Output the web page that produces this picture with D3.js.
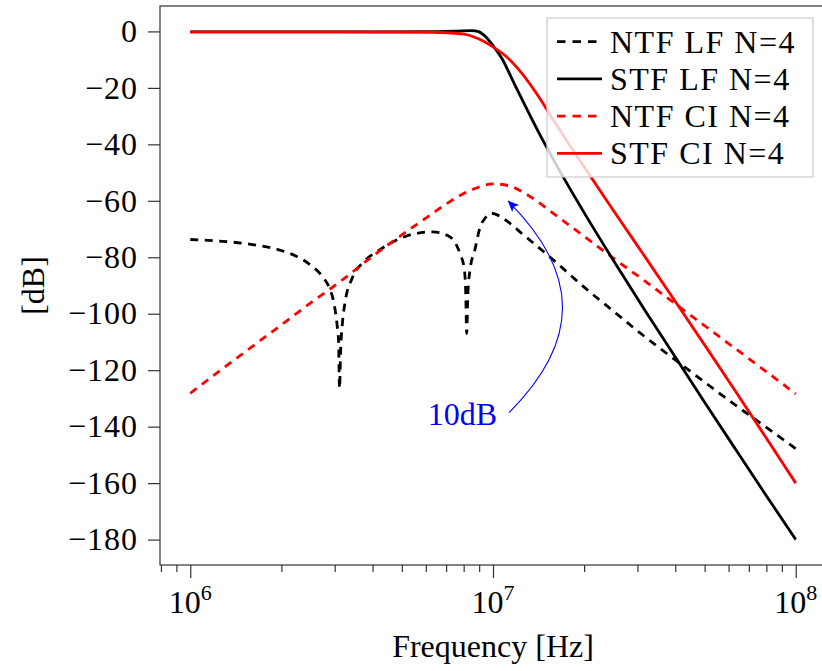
<!DOCTYPE html>
<html>
<head>
<meta charset="utf-8">
<script src="https://cdn.jsdelivr.net/npm/d3@7"></script>
<style>
  html, body { margin: 0; padding: 0; background: #fff; }
  svg text { font-family: "Liberation Serif", "Times New Roman", serif; }
</style>
</head>
<body>
<svg id="chart" width="822" height="671"></svg>
<script>
// ---------------- DATA ----------------
// frequencies given as log10(Hz) exponents, levels in dB
const ntfLfLogF = [6.0, 6.1, 6.2, 6.3, 6.35, 6.4, 6.44, 6.46, 6.475, 6.485, 6.49, 6.493, 6.497, 6.502, 6.512, 6.534, 6.572, 6.62, 6.68, 6.74, 6.8, 6.85, 6.875, 6.892, 6.905, 6.91, 6.913, 6.917, 6.924, 6.94, 6.957, 6.975, 6.995, 7.02, 7.05, 7.1, 7.2, 7.3, 7.4, 7.5, 7.6, 7.7, 7.8, 7.9, 8.0];
const ntfLfDb   = [-73.7, -74.3, -75.4, -77.6, -79.6, -83, -87.3, -91, -96.5, -104, -110, -126.5, -112, -104, -95.5, -87.6, -81.7, -77.8, -74, -71.7, -71, -72.3, -74.8, -79, -84, -93, -107, -93, -84.5, -77.4, -69.5, -66, -64.4, -65.3, -67.5, -72, -81, -90.5, -99.3, -108, -116.2, -124.3, -132.3, -140, -147.8];

const stfLfLogF = [6.0, 6.5, 6.8, 6.88, 6.93, 6.95, 6.97, 7.0, 7.03, 7.067, 7.1, 7.15, 7.2, 7.3, 7.4, 7.5, 7.6, 7.7, 7.8, 7.9, 8.0];
const stfLfDb   = [-0.2, -0.15, -0.1, 0.1, 0.3, 0.0, -1.3, -5, -9.7, -17.8, -25, -35.6, -45.5, -64, -81.5, -98.5, -115, -131.5, -147.8, -164, -180];

const ntfCiLogF = [6.0, 6.1, 6.2, 6.3, 6.4, 6.5, 6.6, 6.7, 6.8, 6.85, 6.9, 6.95, 7.0, 7.05, 7.1, 7.15, 7.2, 7.3, 7.4, 7.5, 7.6, 7.7, 7.8, 7.9, 8.0];
const ntfCiDb   = [-128.2, -120, -112, -104, -96, -88.2, -79.8, -72, -64.5, -60.8, -57.6, -55.3, -54, -54.6, -57, -60.5, -64.5, -72.5, -80.5, -88.3, -96.3, -104.3, -112.3, -120.3, -128.4];

const stfCiLogF = [6.0, 6.5, 6.8, 6.85, 6.9, 6.95, 7.0, 7.05, 7.1, 7.15, 7.2, 7.25, 7.3, 7.35, 7.4, 7.5, 7.6, 7.7, 7.8, 7.9, 8.0];
const stfCiDb   = [-0.2, -0.2, -0.3, -0.5, -0.9, -2.5, -5.5, -9.5, -15.5, -23, -31.5, -39.8, -47.8, -55.8, -63.8, -79.5, -95.3, -111.2, -127.3, -143.6, -160];

const seriesNames = ["NTF LF N=4", "STF LF N=4", "NTF CI N=4", "STF CI N=4"];
const yTicks = [0, -20, -40, -60, -80, -100, -120, -140, -160, -180];
const xMajorTicks = [1e6, 1e7, 1e8];
const xTickExponents = ["6", "7", "8"];
const xMinorTicks = [8e5, 9e5, 2e6, 3e6, 4e6, 5e6, 6e6, 7e6, 8e6, 9e6, 2e7, 3e7, 4e7, 5e7, 6e7, 7e7, 8e7, 9e7];
const annotation = { text: "10dB", fromF: 1.13e7, fromDb: -135, toF: 1.12e7, toDb: -60 };

// ---------------- CHART ----------------
const svg = d3.select("#chart");
const pL = 160, pR = 826, pT = 6, pB = 565;

const x = d3.scaleLog().domain([Math.pow(10, 5.9), Math.pow(10, 8.1)]).range([pL, pR]);
const y = d3.scaleLinear().domain([-189, 9]).range([pB, pT]);

const zip = (lf, db) => lf.map((e, i) => ({ f: Math.pow(10, e), v: db[i] }));
const series = [
  { name: seriesNames[0], data: zip(ntfLfLogF, ntfLfDb), color: "#000", dash: "8,6.5" },
  { name: seriesNames[1], data: zip(stfLfLogF, stfLfDb), color: "#000", dash: null },
  { name: seriesNames[2], data: zip(ntfCiLogF, ntfCiDb), color: "#ff0000", dash: "8,6.5" },
  { name: seriesNames[3], data: zip(stfCiLogF, stfCiDb), color: "#ff0000", dash: null }
];

const defs = svg.append("defs");
defs.append("clipPath").attr("id", "plotclip")
  .append("rect").attr("x", pL).attr("y", pT).attr("width", pR - pL).attr("height", pB - pT);

const line = d3.line().x(d => x(d.f)).y(d => y(d.v)).curve(d3.curveMonotoneX);

const plot = svg.append("g").attr("clip-path", "url(#plotclip)");
[series[0], series[2], series[1], series[3]].forEach(s => {
  plot.append("path")
    .attr("d", line(s.data))
    .attr("fill", "none")
    .attr("stroke", s.color)
    .attr("stroke-width", 2.8)
    .attr("stroke-linejoin", "round")
    .attr("stroke-dasharray", s.dash);
});

// annotation arrow (curved, bending right)
defs.append("marker")
  .attr("id", "arrowhead")
  .attr("markerUnits", "userSpaceOnUse")
  .attr("markerWidth", 14).attr("markerHeight", 12)
  .attr("refX", 11).attr("refY", 5)
  .attr("orient", "auto")
  .append("path").attr("d", "M0,0 L11,5 L0,10 L2.5,5 z").attr("fill", "#0000ff");

const p0 = [x(annotation.fromF), y(annotation.fromDb)];
const p3 = [x(annotation.toF), y(annotation.toDb)];
const bend = 72;
const c1 = [p0[0] + bend, p0[1] - bend];
const c2 = [p3[0] + bend, p3[1] + bend];
svg.append("path")
  .attr("d", `M${p0[0]},${p0[1]} C${c1[0]},${c1[1]} ${c2[0]},${c2[1]} ${p3[0]},${p3[1]}`)
  .attr("fill", "none").attr("stroke", "#0000ff").attr("stroke-width", 1.1)
  .attr("marker-end", "url(#arrowhead)");
svg.append("text")
  .attr("x", p0[0] - 12).attr("y", p0[1] + 12)
  .attr("text-anchor", "end")
  .attr("font-size", 32).attr("fill", "#0000ff")
  .text(annotation.text);

// axes frame
svg.append("rect").attr("x", pL).attr("y", pT).attr("width", pR - pL).attr("height", pB - pT)
  .attr("fill", "none").attr("stroke", "#333").attr("stroke-width", 1.2);

// y axis
const yAxis = svg.append("g").attr("transform", `translate(${pL},0)`)
  .call(d3.axisLeft(y).tickValues(yTicks).tickSize(12).tickSizeOuter(0).tickPadding(10)
    .tickFormat(d => d3.format("")(d)));
yAxis.select(".domain").remove();
yAxis.selectAll(".tick line").attr("stroke", "#333").attr("stroke-width", 1.2);
yAxis.selectAll(".tick text").attr("font-size", 32).attr("fill", "#000")
  .attr("font-family", "Liberation Serif, serif").attr("letter-spacing", 1);

// x axis - minor ticks
const xMinor = svg.append("g").attr("transform", `translate(0,${pB})`)
  .call(d3.axisBottom(x).tickValues(xMinorTicks).tickSize(7).tickSizeOuter(0).tickFormat(() => ""));
xMinor.select(".domain").remove();
xMinor.selectAll(".tick line").attr("stroke", "#333").attr("stroke-width", 1.2);

// x axis - major ticks
const xMajor = svg.append("g").attr("transform", `translate(0,${pB})`)
  .call(d3.axisBottom(x).tickValues(xMajorTicks).tickSize(13).tickSizeOuter(0).tickFormat(() => ""));
xMajor.select(".domain").remove();
xMajor.selectAll(".tick line").attr("stroke", "#333").attr("stroke-width", 1.2);

// major tick labels 10^n
xMajorTicks.forEach((t, i) => {
  const tx = svg.append("text")
    .attr("x", x(t)).attr("y", 613)
    .attr("text-anchor", "middle")
    .attr("font-size", 32).attr("fill", "#000");
  tx.append("tspan").text("10");
  tx.append("tspan").attr("font-size", 22).attr("dy", -13).text(xTickExponents[i]);
});

// axis titles
svg.append("text")
  .attr("x", (pL + pR) / 2).attr("y", 657)
  .attr("text-anchor", "middle").attr("font-size", 32).attr("fill", "#000")
  .text("Frequency [Hz]");
svg.append("text")
  .attr("transform", `translate(44,${(pT + pB) / 2}) rotate(-90)`)
  .attr("text-anchor", "middle").attr("font-size", 32).attr("fill", "#000")
  .text("[dB]");

// legend
const lg = svg.append("g");
const lgX = 547, lgY = 18, lgW = 266, lgH = 159;
lg.append("rect").attr("x", lgX).attr("y", lgY).attr("width", lgW).attr("height", lgH)
  .attr("fill", "#fff").attr("fill-opacity", 0.8)
  .attr("stroke", "#cccccc").attr("stroke-width", 1.2);
series.forEach((s, i) => {
  const cy = 41.7 + i * 37.2;
  lg.append("line")
    .attr("x1", 557).attr("x2", 602).attr("y1", cy).attr("y2", cy)
    .attr("stroke", s.color).attr("stroke-width", 2.8)
    .attr("stroke-dasharray", s.dash ? "8.5,7" : null);
  lg.append("text")
    .attr("x", 610).attr("y", cy + 11)
    .attr("font-size", 32).attr("fill", "#000")
    .attr("letter-spacing", 1.5)
    .text(s.name);
});
</script>
</body>
</html>
